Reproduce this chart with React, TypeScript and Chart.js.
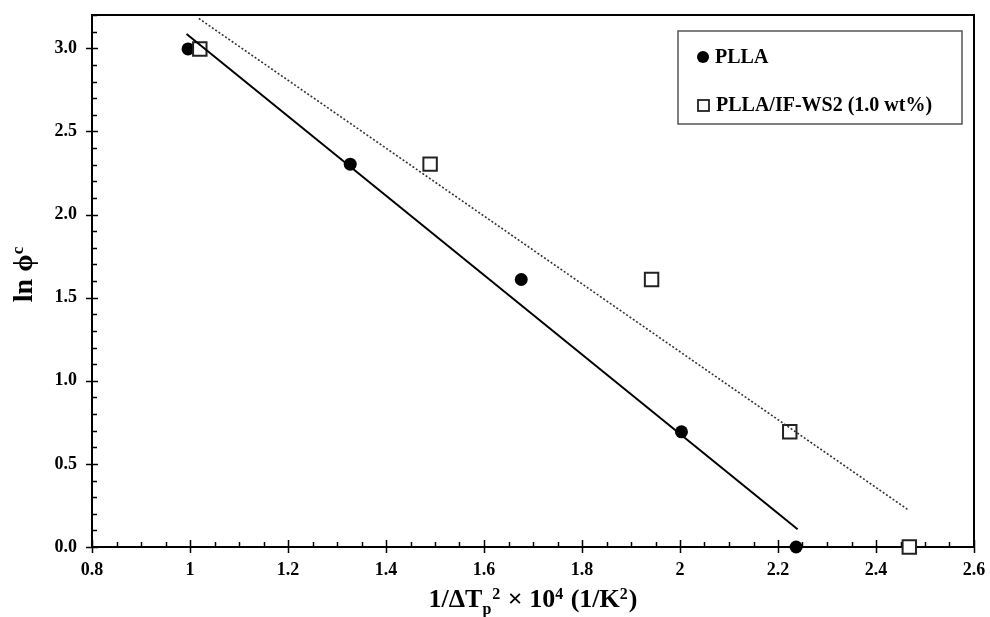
import React, { useEffect, useRef } from 'react';
import { Chart, registerables } from 'chart.js';

Chart.register(...registerables);

// Data
const pllaX = [0.996, 1.327, 1.676, 2.003, 2.237];
const pllaY = [2.996, 2.303, 1.609, 0.693, 0.0];
const wsX = [1.02, 1.49, 1.942, 2.224, 2.468];
const wsY = [2.996, 2.303, 1.609, 0.693, 0.0];
const pllaFitX = [0.993, 2.24];
const pllaFitY = [3.086, 0.107];
const wsFitX = [1.018, 2.466];
const wsFitY = [3.179, 0.223];

const seriesLabels = ['PLLA', 'PLLA/IF-WS2 (1.0 wt%)'];
const xRange = [0.8, 2.6];
const yRange = [0, 3.2];
const xMajor = 0.2;
const xMinor = 0.05;
const yMajor = 0.5;
const yMinor = 0.1;

const FONT = '"Liberation Serif", "Times New Roman", serif';

type Part = { t?: string; sub?: string; sup?: string; raise?: string };
const xTitleParts: Part[] = [
  { t: '1/ΔT' },
  { sub: 'p' },
  { sup: '2' },
  { t: ' × 10' },
  { sup: '4' },
  { t: ' (1/K' },
  { sup: '2' },
  { t: ')' },
];
const yTitleParts: Part[] = [{ t: 'ln ' }, { t: 'ϕ' }, { raise: 'c' }];

function measureParts(ctx: CanvasRenderingContext2D, parts: Part[], size: number) {
  let w = 0;
  for (const p of parts) {
    if (p.t) {
      ctx.font = `bold ${size}px ${FONT}`;
      w += ctx.measureText(p.t).width;
    } else {
      ctx.font = `bold ${Math.round(size * 0.62)}px ${FONT}`;
      const a = p.sub ? ctx.measureText(p.sub).width : 0;
      const b = p.sup ? ctx.measureText(p.sup).width : 0;
      const c = p.raise ? ctx.measureText(p.raise).width : 0;
      w += Math.max(a, b, c) + 1;
    }
  }
  return w;
}

function drawParts(ctx: CanvasRenderingContext2D, parts: Part[], x: number, y: number, size: number) {
  let cx = x;
  ctx.textBaseline = 'alphabetic';
  ctx.textAlign = 'left';
  for (const p of parts) {
    if (p.t) {
      ctx.font = `bold ${size}px ${FONT}`;
      ctx.fillText(p.t, cx, y);
      cx += ctx.measureText(p.t).width;
    } else {
      const s = Math.round(size * 0.62);
      ctx.font = `bold ${s}px ${FONT}`;
      let mw = 0;
      if (p.sub) {
        ctx.fillText(p.sub, cx, y + size * 0.25);
        mw = Math.max(mw, ctx.measureText(p.sub).width);
      }
      if (p.sup) {
        ctx.fillText(p.sup, cx, y - size * 0.3);
        mw = Math.max(mw, ctx.measureText(p.sup).width);
      }
      if (p.raise) {
        ctx.fillText(p.raise, cx, y - size * 0.32);
        mw = Math.max(mw, ctx.measureText(p.raise).width);
      }
      cx += mw + 1;
    }
  }
}

const decorPlugin = {
  id: 'decor',
  beforeDatasetsDraw(chart: any) {
    const { ctx, chartArea: a, scales } = chart;
    const xs = scales.x;
    const ys = scales.y;
    ctx.save();
    ctx.strokeStyle = '#000';
    ctx.lineWidth = 2;
    ctx.strokeRect(a.left, a.top, a.right - a.left, a.bottom - a.top);
    ctx.lineWidth = 1.5;
    ctx.beginPath();
    const nY = Math.round((yRange[1] - yRange[0]) / yMinor);
    for (let i = 0; i <= nY; i++) {
      const v = yRange[0] + i * yMinor;
      const py = Math.round(ys.getPixelForValue(v)) + 0.5;
      const major = Math.abs(v / yMajor - Math.round(v / yMajor)) < 1e-6;
      ctx.moveTo(major ? a.left - 6 : a.left, py);
      ctx.lineTo(a.left + (major ? 6 : 5), py);
    }
    const nX = Math.round((xRange[1] - xRange[0]) / xMinor);
    for (let i = 0; i <= nX; i++) {
      const v = xRange[0] + i * xMinor;
      const px = Math.round(xs.getPixelForValue(v)) + 0.5;
      const major = Math.abs(v / xMajor - Math.round(v / xMajor)) < 1e-6;
      ctx.moveTo(px, major ? a.bottom + 6 : a.bottom);
      ctx.lineTo(px, a.bottom - (major ? 7 : 5));
    }
    ctx.stroke();
    ctx.restore();
  },
  afterDraw(chart: any) {
    const { ctx, chartArea: a } = chart;
    ctx.save();
    ctx.fillStyle = '#000';
    // x title
    const xs = 26;
    const wX = measureParts(ctx, xTitleParts, xs);
    drawParts(ctx, xTitleParts, (a.left + a.right) / 2 - wX / 2, 607, xs);
    // y title
    const ysz = 28;
    const wY = measureParts(ctx, yTitleParts, ysz);
    ctx.save();
    ctx.translate(32, 274);
    ctx.rotate(-Math.PI / 2);
    drawParts(ctx, yTitleParts, -wY / 2, 0, ysz);
    ctx.restore();

    // legend box
    const bx = 678, by = 31, bw = 284, bh = 93;
    ctx.fillStyle = '#fff';
    ctx.fillRect(bx, by, bw, bh);
    ctx.strokeStyle = '#555';
    ctx.lineWidth = 1.5;
    ctx.strokeRect(bx, by, bw, bh);
    ctx.fillStyle = '#000';
    ctx.beginPath();
    ctx.arc(703, 57, 6, 0, Math.PI * 2);
    ctx.fill();
    ctx.strokeStyle = '#222';
    ctx.lineWidth = 1.8;
    ctx.strokeRect(698, 100, 11, 11);
    ctx.font = `bold 20px ${FONT}`;
    ctx.textBaseline = 'middle';
    ctx.textAlign = 'left';
    ctx.fillStyle = '#000';
    ctx.fillText(seriesLabels[0], 715, 58);
    ctx.fillText(seriesLabels[1], 716, 106);
    ctx.restore();
  },
};

export default function App() {
  const ref = useRef<HTMLCanvasElement | null>(null);
  useEffect(() => {
    if (!ref.current) return;
    const toPts = (xs: number[], ys: number[]) => xs.map((x, i) => ({ x, y: ys[i] }));
    const chart = new Chart(ref.current, {
      type: 'scatter',
      data: {
        datasets: [
          {
            label: 'PLLA fit',
            data: toPts(pllaFitX, pllaFitY),
            showLine: true,
            borderColor: '#000',
            borderWidth: 2,
            pointRadius: 0,
            order: 0,
          } as any,
          {
            label: 'PLLA/IF-WS2 fit',
            data: toPts(wsFitX, wsFitY),
            showLine: true,
            borderColor: '#333',
            borderWidth: 1.6,
            borderDash: [2, 2],
            pointRadius: 0,
            order: 1,
          },
          {
            label: seriesLabels[1],
            data: toPts(wsX, wsY),
            pointStyle: 'rect',
            pointRadius: 9.5,
            backgroundColor: '#fff',
            borderColor: '#222',
            borderWidth: 2,
            clip: false,
            order: 2,
          },
          {
            label: seriesLabels[0],
            data: toPts(pllaX, pllaY),
            pointStyle: 'circle',
            pointRadius: 6.5,
            backgroundColor: '#000',
            borderColor: '#000',
            borderWidth: 0,
            clip: false,
            order: 3,
          },
        ],
      },
      options: {
        animation: false,
        responsive: true,
        maintainAspectRatio: false,
        layout: { padding: { top: 15, right: 16, left: 0, bottom: 0 } },
        plugins: { legend: { display: false }, tooltip: { enabled: false } },
        scales: {
          x: {
            type: 'linear',
            min: xRange[0],
            max: xRange[1],
            grid: { display: false, drawTicks: false },
            border: { display: false },
            ticks: {
              stepSize: xMajor,
              padding: 13,
              color: '#000',
              font: { family: FONT, size: 18, weight: 'bold' },
              callback: (v: any) => String(Math.round(Number(v) * 10) / 10),
            },
            afterFit: (s: any) => {
              s.height = 70;
              s.paddingLeft = 0;
              s.paddingRight = 0;
            },
          },
          y: {
            type: 'linear',
            min: yRange[0],
            max: yRange[1],
            grid: { display: false, drawTicks: false },
            border: { display: false },
            afterBuildTicks: (s: any) => {
              s.ticks = s.ticks.filter(
                (t: any) => Math.abs(t.value / yMajor - Math.round(t.value / yMajor)) < 1e-6
              );
            },
            ticks: {
              stepSize: yMajor,
              padding: 15,
              color: '#000',
              font: { family: FONT, size: 18, weight: 'bold' },
              callback: (v: any) => Number(v).toFixed(1),
            },
            afterFit: (s: any) => {
              s.width = 92;
              s.paddingTop = 0;
              s.paddingBottom = 0;
            },
          },
        },
      },
      plugins: [decorPlugin],
    });
    return () => chart.destroy();
  }, []);
  return (
    <div style={{ position: 'absolute', left: 0, top: 0, width: 990, height: 617, background: '#fff' }}>
      <canvas ref={ref} />
    </div>
  );
}
